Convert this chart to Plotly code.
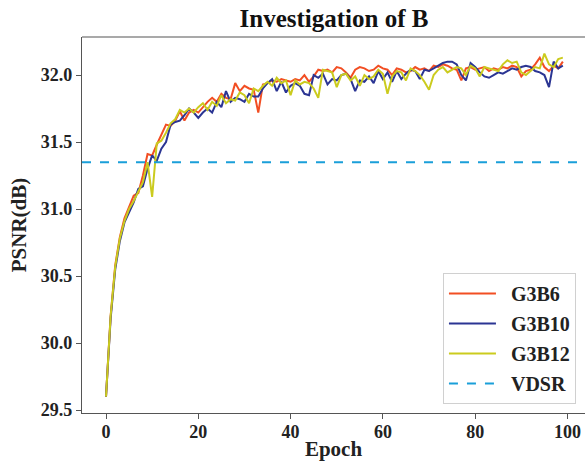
import plotly.graph_objects as go

epochs = list(range(100))

g3b6 = [29.60, 30.20, 30.58, 30.79, 30.93, 31.02, 31.10, 31.12, 31.25, 31.41,
        31.40, 31.48, 31.55, 31.63, 31.62, 31.66, 31.73, 31.66, 31.72, 31.74,
        31.72, 31.76, 31.80, 31.83, 31.80, 31.86, 31.83, 31.82, 31.94, 31.88,
        31.92, 31.90, 31.89, 31.72, 31.93, 31.94, 31.96, 31.95, 31.97, 31.96,
        31.95, 31.97, 31.96, 32.00, 31.95, 31.99, 32.04, 32.03, 32.04, 32.02,
        32.06, 32.05, 32.02, 31.98, 32.04, 32.06, 32.05, 32.03, 32.04, 32.07,
        32.05, 32.04, 32.00, 32.05, 32.04, 32.02, 32.03, 32.06, 32.04, 32.05,
        32.03, 32.07, 32.06, 32.08, 32.07, 32.05, 32.04, 31.96, 32.05, 32.06,
        32.04, 32.05, 32.06, 32.03, 32.05, 32.04, 32.06, 32.05, 32.07, 32.06,
        31.99, 32.03, 32.04, 32.08, 32.13, 32.06, 32.03, 32.07, 32.05, 32.10]

g3b10 = [29.60, 30.18, 30.55, 30.76, 30.90, 30.98, 31.05, 31.15, 31.17, 31.30,
         31.40, 31.36, 31.45, 31.50, 31.63, 31.65, 31.66, 31.70, 31.75, 31.72,
         31.68, 31.72, 31.75, 31.72, 31.80, 31.76, 31.88, 31.80, 31.83, 31.82,
         31.80, 31.86, 31.84, 31.84, 31.90, 31.94, 31.97, 31.88, 31.95, 31.87,
         31.92, 31.94, 31.92, 31.86, 31.85, 32.00, 31.98, 32.01, 31.93, 31.97,
         31.96, 32.00, 32.01, 31.97, 31.88, 31.96, 31.95, 31.99, 31.94, 32.03,
         31.97, 32.02, 31.95, 32.03, 31.97, 32.01, 32.04, 32.03, 31.97, 32.04,
         32.03, 32.05, 32.07, 32.09, 32.10, 32.10, 32.08, 32.00, 31.96, 32.09,
         32.06, 32.02, 31.99, 31.98, 32.00, 32.02, 32.01, 32.03, 32.05, 32.04,
         32.06, 32.07, 32.06, 32.03, 32.02, 32.00, 31.91, 32.10, 32.05, 32.07]

g3b12 = [29.60, 30.20, 30.57, 30.78, 30.91, 31.00, 31.06, 31.13, 31.20, 31.35,
         31.09, 31.49, 31.51, 31.57, 31.64, 31.67, 31.74, 31.72, 31.75, 31.72,
         31.76, 31.79, 31.74, 31.80, 31.77, 31.85, 31.79, 31.82, 31.81, 31.87,
         31.85, 31.79, 31.90, 31.88, 31.92, 31.95, 31.92, 31.98, 31.94, 31.96,
         31.85, 31.96, 31.93, 31.95, 31.94, 31.90, 31.83, 32.04, 32.03, 32.02,
         31.91, 32.00, 32.01, 31.96, 31.99, 31.92, 32.00, 31.97, 31.99, 32.04,
         32.01, 31.86, 31.99, 32.03, 32.02, 31.96, 32.05, 32.03, 32.00, 31.95,
         31.89, 32.00, 32.04, 32.06, 32.02, 32.04, 32.06, 32.05, 32.00, 32.07,
         32.05, 31.99, 32.06, 32.05, 32.04, 32.03, 32.08, 32.11, 32.09, 32.10,
         32.02, 32.00, 32.03, 32.06, 32.05, 32.16, 32.08, 32.06, 32.12, 32.13]

vdsr_value = 31.35

series_names = ["G3B6", "G3B10", "G3B12", "VDSR"]
x_ticks = [0, 20, 40, 60, 80, 100]
y_ticks = [29.5, 30.0, 30.5, 31.0, 31.5, 32.0]

FONT = "Liberation Serif, Times New Roman, serif"
X_RANGE = [-5.2, 103.8]
PAD = "\u00a0\u00a0"

fig = go.Figure()
fig.add_trace(go.Scatter(x=epochs, y=g3b6, mode="lines", name=PAD + series_names[0],
                         legendgroup="a", line=dict(color="#F24E23", width=2)))
fig.add_trace(go.Scatter(x=epochs, y=g3b10, mode="lines", name=PAD + series_names[1],
                         legendgroup="b", line=dict(color="#2B3593", width=2)))
fig.add_trace(go.Scatter(x=epochs, y=g3b12, mode="lines", name=PAD + series_names[2],
                         legendgroup="c", line=dict(color="#CBCB1E", width=2)))
fig.add_trace(go.Scatter(x=X_RANGE, y=[vdsr_value, vdsr_value], mode="lines",
                         name=PAD + series_names[3], legendgroup="d",
                         line=dict(color="#1A9FD9", width=2, dash="dash")))

fig.update_layout(
    width=585, height=467,
    margin=dict(l=82, r=0, t=37, b=54),
    paper_bgcolor="white", plot_bgcolor="white",
    font=dict(family=FONT, size=16, color="#222222", weight="bold"),
    title=dict(text="Investigation of B", x=(82 + 586) / 2 / 585, xanchor="center",
               y=1 - 18 / 467, yanchor="middle",
               font=dict(family=FONT, size=25, color="#111111", weight="bold")),
    xaxis=dict(range=X_RANGE, tickvals=x_ticks, showgrid=False, zeroline=False,
               automargin=False,
               showline=True, linecolor="#555555", linewidth=1.2,
               ticks="outside", ticklen=5, tickcolor="#555555",
               ticklabelstandoff=-3,
               tickfont=dict(family=FONT, size=18, color="#222222", weight="bold"),
               title=dict(text="Epoch", standoff=0,
                          font=dict(family=FONT, size=21, color="#222222", weight="bold"))),
    yaxis=dict(range=[29.478, 32.284], tickvals=y_ticks, tickformat=".1f",
               showgrid=False, zeroline=False, automargin=False,
               showline=True, linecolor="#555555", linewidth=1.2,
               ticks="outside", ticklen=5, tickcolor="#555555",
               tickfont=dict(family=FONT, size=18, color="#222222", weight="bold"),
               title=dict(text="PSNR(dB)", standoff=8,
                          font=dict(family=FONT, size=21, color="#222222", weight="bold"))),
    legend=dict(x=0.982, y=0.024, xanchor="right", yanchor="bottom",
                bgcolor="rgba(255,255,255,0.85)", bordercolor="#D0D0D0", borderwidth=1,
                font=dict(family=FONT, size=20, color="#222222", weight="bold"),
                itemwidth=47, tracegroupgap=1),
    showlegend=True,
)

fig.add_shape(type="line", xref="paper", yref="paper", x0=0, x1=1, y0=1, y1=1,
              line=dict(color="#555555", width=1.2))

fig.write_html("out.html",
               config={"displayModeBar": False},
               post_script="document.body.style.margin='0';document.body.style.overflow='hidden';")
